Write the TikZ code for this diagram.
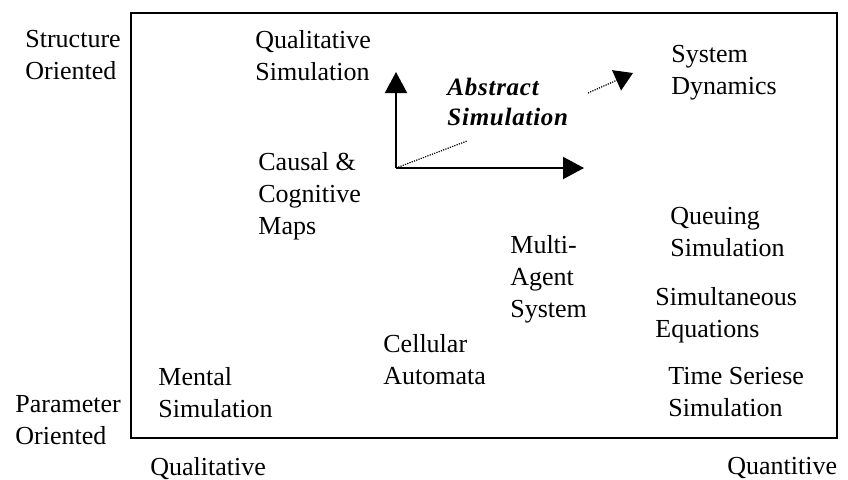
\documentclass[tikz,border=0pt]{standalone}
\usepackage{fontspec}
\setmainfont{Liberation Serif}
\usetikzlibrary{arrows.meta}
\tikzset{
  lbl/.style={anchor=north west, inner sep=0pt, align=left,
    font=\fontsize{13pt}{16pt}\selectfont},
  absl/.style={anchor=north west, inner sep=0pt, align=left,
    font=\fontsize{12.5pt}{15pt}\selectfont\bfseries\itshape\addfontfeature{LetterSpace=3}},
  frame/.style={draw=black, line width=0.8pt},
  axisarrow/.style={line width=1pt, -{Triangle[length=10.5pt,width=11pt]}},
  dotline/.style={line width=0.6pt, dash pattern=on 0.6pt off 0.6pt},
  dotarrow/.style={dotline, -{Triangle[length=9pt,width=11pt]}}
}
\begin{document}
\begin{tikzpicture}[x=0.5pt,y=-0.5pt]
\useasboundingbox (0,0) rectangle (848,479);
\node[frame, inner sep=0pt, minimum width=353pt, minimum height=212.5pt, anchor=north west] (box) at (130,12) {};
\node[lbl] (so) at (25,30) {Structure\\Oriented};
\node[lbl] (po) at (15,395) {Parameter\\Oriented};
\node[lbl] (ql) at (150,457) {Qualitative};
\node[lbl] (qn) at (727,457) {Quantitive};
\node[lbl] (qs) at (255,30) {Qualitative\\Simulation};
\node[lbl] (ccm) at (258,152) {Causal \&\\Cognitive\\Maps};
\node[lbl] (sd) at (671,45) {System\\Dynamics};
\node[lbl] (qu) at (670,207) {Queuing\\Simulation};
\node[lbl] (mas) at (510,235) {Multi-\\Agent\\System};
\node[lbl] (se) at (655,287) {Simultaneous\\Equations};
\node[lbl] (ca) at (383,334) {Cellular\\Automata};
\node[lbl] (ms) at (158,367) {Mental\\Simulation};
\node[lbl] (ts) at (668,367) {Time Seriese\\Simulation};
\node[absl] (as) at (447,78) {Abstract\\Simulation};
\coordinate (o) at (396,168);
\coordinate (up) at (396,72);
\coordinate (rt) at (584,168);
\coordinate (d1) at (467,141);
\coordinate (d2s) at (588,93);
\coordinate (d2e) at (633,73);
\draw[axisarrow] (o) -- (up);
\draw[axisarrow] (o) -- (rt);
\draw[dotline] (o) -- (d1);
\draw[dotarrow] (d2s) -- (d2e);
\end{tikzpicture}
\end{document}
